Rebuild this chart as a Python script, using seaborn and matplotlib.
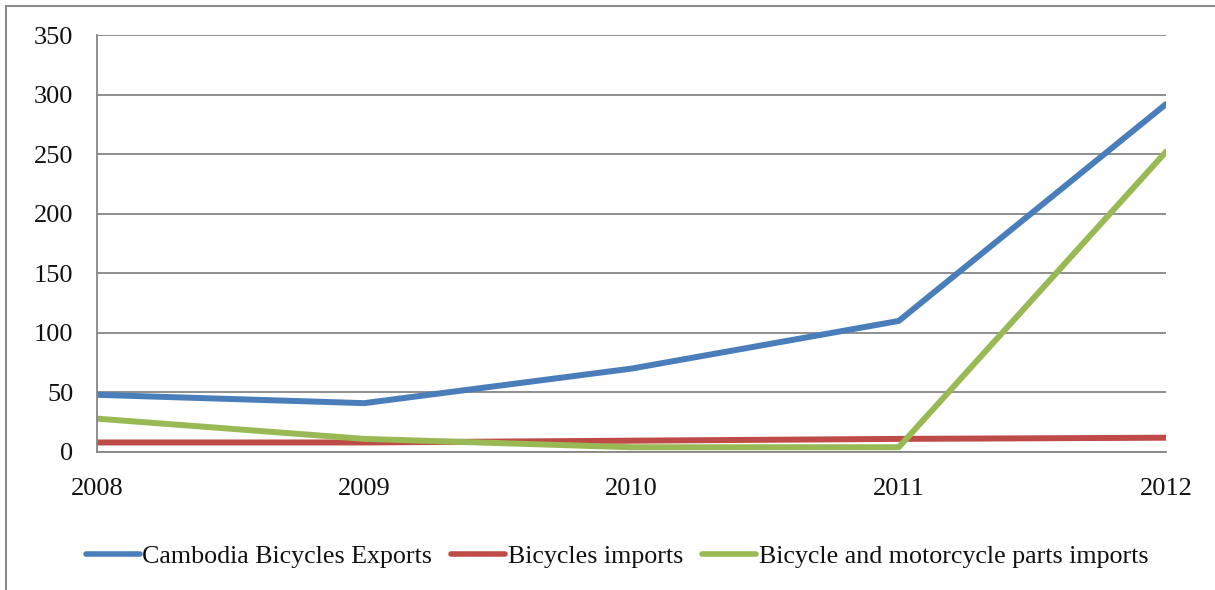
import matplotlib
matplotlib.use("Agg")
import matplotlib.pyplot as plt
import seaborn as sns
import pandas as pd
from matplotlib.lines import Line2D

years = [2008, 2009, 2010, 2011, 2012]
exports = [48, 41, 70, 110, 292]
bike_imports = [8, 8, 9.5, 11, 12]
parts_imports = [28, 11, 4, 4, 252]
series_names = ["Cambodia Bicycles Exports", "Bicycles imports",
                "Bicycle and motorcycle parts imports"]
colors = ["#4A7EBB", "#BE4B48", "#98B954"]
y_ticks = [0, 50, 100, 150, 200, 250, 300, 350]

df = pd.DataFrame({
    "year": years * 3,
    "value": exports + bike_imports + parts_imports,
    "series": [series_names[0]] * 5 + [series_names[1]] * 5 + [series_names[2]] * 5,
})

sns.set_theme(style="white")
plt.rcParams["font.family"] = ["Liberation Serif", "DejaVu Serif"]

W, H = 1215, 590
fig = plt.figure(figsize=(W / 100, H / 100), dpi=100)
ax = fig.add_axes([97 / W, 1 - 452 / H, (1166 - 97) / W, (452 - 35) / H])

sns.lineplot(data=df, x="year", y="value", hue="series", hue_order=series_names,
             palette=colors, linewidth=4.3, ax=ax, legend=False)

grid_c = "#868686"
ax.set_xlim(2008, 2012)
ax.set_ylim(0, 350)
ax.set_xticks(years)
ax.set_xticklabels([str(y) for y in years])
ax.set_yticks(y_ticks)
ax.yaxis.grid(True, color=grid_c, linewidth=1.3)
ax.xaxis.grid(False)
ax.set_axisbelow(True)
for s in ["top", "right"]:
    ax.spines[s].set_visible(False)
for s in ["left", "bottom"]:
    ax.spines[s].set_color(grid_c)
    ax.spines[s].set_linewidth(1.3)
ax.tick_params(axis="both", which="major", direction="out", length=5, width=1.3,
               color=grid_c, labelsize=19, labelcolor="#111111")
ax.tick_params(axis="y", pad=12)
ax.tick_params(axis="x", pad=14)
ax.set_xlabel("")
ax.set_ylabel("")

handles = [Line2D([0], [0], color=c, linewidth=4.0, solid_capstyle="round") for c in colors]
leg = fig.legend(handles, series_names, loc="center", bbox_to_anchor=(617 / W, 1 - 556 / H),
                 ncol=3, frameon=False, fontsize=18.7, handlelength=2.08, handletextpad=0.1,
                 columnspacing=0.72, borderpad=0)
for t in leg.get_texts():
    t.set_color("#111111")

# outer chart border (left and top)
fig.add_artist(Line2D([6 / W, 6 / W], [0, 1 - 6 / H], transform=fig.transFigure,
                      color="#8c8c8c", linewidth=1.5))
fig.add_artist(Line2D([6 / W, 1], [1 - 6 / H, 1 - 6 / H], transform=fig.transFigure,
                      color="#8c8c8c", linewidth=1.5))

fig.savefig("out.png", dpi=100)
